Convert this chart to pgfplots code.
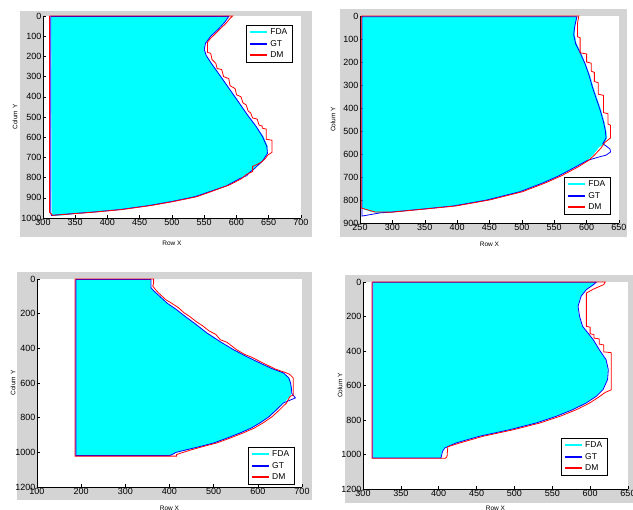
\documentclass[border=0pt]{standalone}
\usepackage{fontspec}
\setmainfont{Liberation Sans}
\usepackage{pgfplots}
\pgfplotsset{compat=1.18}
\definecolor{figgray}{RGB}{212,212,212}
\definecolor{fdacyan}{RGB}{0,255,255}
\definecolor{gtblue}{RGB}{0,0,255}
\definecolor{dmred}{RGB}{255,0,0}
\pgfplotsset{
 panel/.style={
  scale only axis,
  y dir=reverse,
  axis x line*=bottom, axis y line*=left,
  tick align=inside,
  major tick length=3pt,
  tick style={black,line width=0.5pt},
  axis line style={black,line width=0.6pt,-},
  axis background/.style={fill=white},
  tick label style={font=\fontsize{9}{10}\selectfont, inner sep=1.5pt},
  label style={font=\fontsize{6.5}{7}\selectfont},
  /pgf/number format/assume math mode=true,
  /pgf/number format/1000 sep={},
  xlabel={Row X}, ylabel={Colum Y},
  legend cell align=left,
  legend style={font=\fontsize{8.5}{10}\selectfont, draw=black, fill=white, inner xsep=3pt, inner ysep=1.5pt, anchor=north west},
  legend image post style={line width=2pt},
 },
 fda/.style={fill=fdacyan, draw=fdacyan, line width=0.4pt},
 gt/.style={draw=gtblue, line width=0.8pt},
 dm/.style={draw=dmred, line width=0.8pt},
}
\begin{document}
\begin{tikzpicture}
\useasboundingbox (0,0) rectangle (633pt,510pt);
\fill[white] (0,0) rectangle (633pt,510pt);
\fill[figgray] (20pt,273pt) rectangle (312pt,499pt);
\fill[figgray] (340pt,273pt) rectangle (627pt,501pt);
\fill[figgray] (17pt,10pt) rectangle (312pt,238pt);
\fill[figgray] (345pt,7pt) rectangle (633pt,235pt);

% ---------------- Panel 1 ----------------
\begin{axis}[panel, at={(43pt,292pt)}, anchor=south west, width=258pt, height=202pt,
  xmin=300, xmax=700, ymin=0, ymax=1000,
  xtick={300,350,...,700}, ytick={0,100,...,1000},
  legend style={at={(axis description cs:0.787,0.955)}},
  xlabel style={at={(axis description cs:0.5,-0.124)},anchor=center},
  ylabel style={at={(axis description cs:-0.1085,0.5)},anchor=center}]
\addplot[fda, forget plot] coordinates {
(313,3) (587,3) (581,30) (571,65) (559,100) (551,135) (549,165) (552,195) (560,230) (570,275) (580,320) (592,375) (603,425) (617,490) (630,545) (641,595) (648,645) (648,680) (641,715) (628,755) (618,780) (605,805) (585,840) (560,868) (535,895) (500,918) (465,938) (420,958) (380,970) (345,980) (330,986) (314,988) (313,3)};
\addplot[gt, forget plot] coordinates {
(312,2) (588,2) (582,30) (572,65) (560,100) (552,135) (550,165) (553,195) (560,230) (570,275) (580,320) (592,375) (603,425) (617,490) (630,545) (640,595) (647,645) (648,680) (641,715) (628,755) (620,775) (616,790) (605,805) (585,840) (560,868) (535,895) (500,918) (465,938) (420,958) (380,970) (340,980) (320,985) (313,988) (312,975) (312,2)};
\addplot[dm, forget plot] coordinates {
(310,0) (594,0) (590,12) (584,35) (576,60) (568,85) (560,110) (555,130) (555,180) (560,185) (562,215) (568,235) (570,260) (577,265) (580,300) (588,310) (590,345) (598,360) (600,390) (607,400) (610,430) (615,440) (618,470) (622,480) (625,505) (632,510) (635,540) (640,545) (640,555) (646,560) (646,610) (655,615) (655,675) (648,690) (645,705) (638,725) (625,745) (625,770) (615,785) (608,805) (590,835) (562,868) (538,895) (503,918) (468,938) (423,958) (383,970) (343,980) (322,985) (315,987) (310,972) (310,0)};
\addlegendimage{color=fdacyan}\addlegendentry{FDA}
\addlegendimage{color=gtblue}\addlegendentry{GT}
\addlegendimage{color=dmred}\addlegendentry{DM}
\end{axis}

% ---------------- Panel 2 ----------------
\begin{axis}[panel, at={(360pt,287pt)}, anchor=south west, width=259pt, height=207pt,
  xmin=250, xmax=650, ymin=0, ymax=900,
  xtick={250,300,...,650}, ytick={0,100,...,900},
  legend style={at={(axis description cs:0.788,0.222)}},
  xlabel style={at={(axis description cs:0.5,-0.102)},anchor=center},
  ylabel style={at={(axis description cs:-0.104,0.5)},anchor=center}]
\addplot[fda, forget plot] coordinates {
(254,3) (585,3) (582,40) (581,80) (584,120) (591,160) (598,210) (605,260) (610,310) (616,360) (622,410) (627,460) (630,500) (631,530) (627,555) (619,570) (611,599) (601,628) (583,656) (557,695) (533,725) (497,764) (446,800) (394,826) (345,840) (296,853) (281,855) (268,851) (254,838) (254,3)};
\addplot[gt, forget plot] coordinates {
(253,3) (585,3) (582,40) (580,80) (583,120) (590,160) (598,210) (604,260) (609,310) (615,360) (621,410) (626,460) (629,500) (630,530) (625,555) (630,565) (636,578) (637,591) (630,605) (619,613) (601,628) (583,656) (557,695) (533,725) (497,764) (446,800) (394,826) (345,840) (296,853) (281,856) (253,870) (253,860) (253,3)};
\addplot[dm, forget plot] coordinates {
(252,0) (588,0) (586,30) (586,90) (590,95) (590,160) (600,165) (600,200) (607,205) (607,240) (612,245) (612,285) (618,290) (618,340) (626,345) (626,420) (633,425) (633,470) (637,475) (637,530) (628,550) (622,575) (612,605) (603,628) (587,656) (561,695) (537,725) (501,764) (450,800) (398,826) (348,840) (299,853) (273,852) (252,835) (252,0)};
\addlegendimage{color=fdacyan}\addlegendentry{FDA}
\addlegendimage{color=gtblue}\addlegendentry{GT}
\addlegendimage{color=dmred}\addlegendentry{DM}
\end{axis}

% ---------------- Panel 3 ----------------
\begin{axis}[panel, at={(37pt,23pt)}, anchor=south west, width=265pt, height=208pt,
  xmin=100, xmax=700, ymin=0, ymax=1200,
  xtick={100,200,...,700}, ytick={0,200,...,1200},
  legend style={at={(axis description cs:0.796,0.192)}},
  xlabel style={at={(axis description cs:0.5,-0.101)},anchor=center},
  ylabel style={at={(axis description cs:-0.09,0.5)},anchor=center}]
\addplot[fda, forget plot] coordinates {
(189,3) (357,3) (357,50) (364,70) (377,100) (394,140) (414,175) (434,215) (459,262) (484,312) (514,362) (544,408) (574,448) (604,485) (630,515) (657,542) (670,570) (674,600) (676,630) (675,665) (668,690) (658,715) (648,740) (640,760) (625,795) (605,830) (585,860) (560,888) (530,918) (500,946) (470,966) (439,985) (415,1000) (401,1018) (189,1018) (189,3)};
\addplot[gt, forget plot] coordinates {
(188,3) (358,3) (358,50) (365,70) (378,100) (395,140) (415,175) (435,215) (460,262) (485,312) (515,362) (545,408) (575,448) (605,485) (630,515) (658,542) (670,570) (674,600) (676,630) (677,660) (685,686) (672,700) (658,715) (648,740) (640,760) (625,795) (605,830) (585,860) (560,888) (530,918) (500,946) (470,966) (439,985) (415,1000) (401,1019) (188,1019) (188,3)};
\addplot[dm, forget plot] coordinates {
(186,0) (364,0) (364,25) (362,40) (368,60) (375,80) (392,120) (405,140) (420,165) (433,195) (445,215) (460,245) (475,270) (490,300) (505,320) (515,350) (530,365) (552,408) (570,435) (585,450) (612,485) (640,520) (665,542) (672,550) (680,570) (680,670) (673,677) (668,700) (665,715) (655,740) (645,765) (632,795) (612,830) (592,860) (567,888) (537,918) (507,946) (477,966) (450,985) (425,1005) (416,1013) (416,1022) (186,1022) (186,0)};
\addlegendimage{color=fdacyan}\addlegendentry{FDA}
\addlegendimage{color=gtblue}\addlegendentry{GT}
\addlegendimage{color=dmred}\addlegendentry{DM}
\end{axis}

% ---------------- Panel 4 ----------------
\begin{axis}[panel, at={(363pt,21pt)}, anchor=south west, width=265pt, height=207pt,
  xmin=300, xmax=650, ymin=0, ymax=1200,
  xtick={300,350,...,650}, ytick={0,200,...,1200},
  legend style={at={(axis description cs:0.747,0.246)}},
  xlabel style={at={(axis description cs:0.5,-0.092)},anchor=center},
  ylabel style={at={(axis description cs:-0.087,0.5)},anchor=center}]
\addplot[fda, forget plot] coordinates {
(314,2) (607,2) (602,20) (594,44) (587,83) (583,141) (585,199) (589,257) (596,295) (603,334) (611,392) (620,450) (623,508) (622,566) (616,624) (607,663) (594,701) (576,740) (554,779) (528,817) (493,856) (453,894) (422,933) (407,962) (404,982) (403,1001) (402,1018) (314,1018) (314,2)};
\addplot[gt, forget plot] coordinates {
(313,2) (608,2) (603,20) (595,44) (588,83) (584,141) (586,199) (590,257) (597,295) (604,334) (612,392) (621,450) (624,508) (623,566) (617,624) (608,663) (595,701) (577,740) (555,779) (529,817) (494,856) (454,894) (423,933) (408,962) (405,982) (404,1001) (403,1020) (313,1020) (313,2)};
\addplot[dm, forget plot] coordinates {
(312,0) (620,0) (618,15) (605,40) (595,64) (595,257) (600,262) (600,300) (605,305) (605,325) (612,330) (612,360) (618,365) (618,405) (628,410) (628,625) (620,640) (612,665) (600,700) (582,740) (560,779) (534,817) (499,856) (459,894) (428,933) (412,955) (411,1012) (409,1022) (312,1022) (312,0)};
\addlegendimage{color=fdacyan}\addlegendentry{FDA}
\addlegendimage{color=gtblue}\addlegendentry{GT}
\addlegendimage{color=dmred}\addlegendentry{DM}
\end{axis}
\end{tikzpicture}
\end{document}
